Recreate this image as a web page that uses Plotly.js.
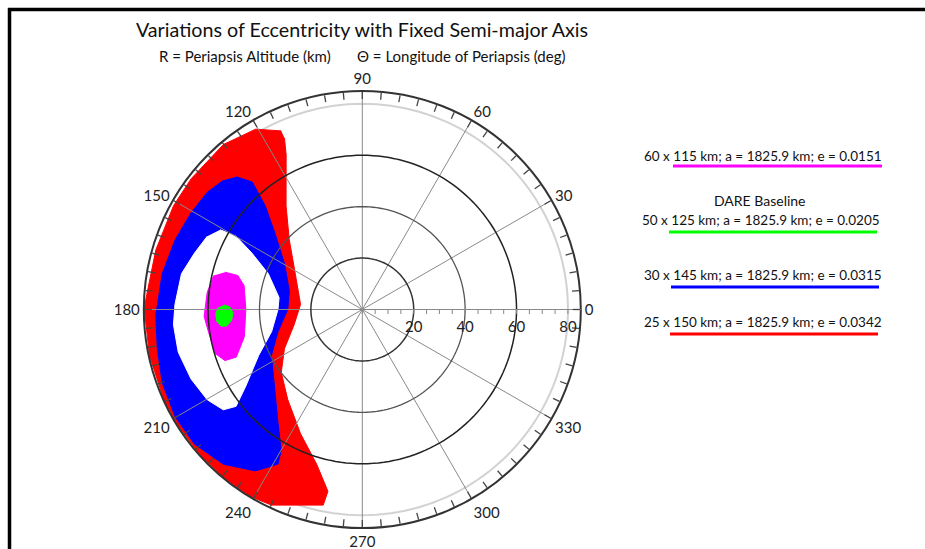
<!DOCTYPE html>
<html>
<head>
<meta charset="utf-8">
<script src="https://cdn.plot.ly/plotly-3.0.1.min.js"></script>
<style>html,body{margin:0;padding:0;background:#fff;}#chart{width:925px;height:549px;}</style>
</head>
<body>
<div id="chart"></div>
<script>
// ---- data (periapsis altitude r in km, longitude of periapsis theta in deg) ----
const redTheta = [114.4,120.6,130.1,142.6,151.2,163.9,176.8,180,192.2,204.2,212.1,221.9,231.0,239.0,245.1,258.7,259.3,253.6,243.5,230.4,217.8,206.7,192.7,175.3,148.0,136.3,126.3,116.2,114.4];
const redR     = [76.3,81.5,83.9,83.8,83.8,83.6,84.2,84.8,84.7,84.8,84.8,84.8,84.8,84.8,83.9,77.6,72.0,62.8,53.9,45.5,39.9,33.9,27.2,24.1,31.3,39.3,50.1,67.1,73.3];

const blueTheta = [133.5,130.8,133.1,138.8,149.5,165.7,180,194.7,206.8,222.4,233.5,240.1,241.4,236.5,228.1,218.7,209.8,200.1,190.8,181.4,178.6,169.9,159.6,150.5,142.9,137.1];
const blueR     = [71.2,65.5,55.3,45.2,35.1,29.3,29.0,33.9,39.6,46.1,55.1,63.3,68.5,75.3,80.9,83.7,83.9,82.9,81.2,80.4,79.7,79.1,77.7,76.5,75.6,73.8];

const holeTheta = [150.7,149.9,153.0,159.2,171.9,180,193.7,203.9,213.3,217.5,215.8,210.2,202.1,193.0,184.6,178.4,168.8,161.5,154.7];
const holeR     = [63.4,56.7,48.1,39.1,32.7,32.8,36.3,44.1,54.2,61.9,66.7,69.8,71.9,73.5,73.7,72.9,71.7,68.9,66.7];

const magentaTheta = [164.8,164.7,168.6,180,193.0,200.7,200.4,196.7,188.8,182.5,173.7,167.1];
const magentaR     = [55.4,50.2,46.9,45.3,47.1,52.4,57.0,59.7,60.4,61.6,60.7,59.3];

const greenTheta = [178.1,178.9,181.4,184.7,186.9,186.8,184.6,181.6,179.2];
const greenR     = [53.8,51.6,50.3,51.0,53.1,55.3,56.8,57.0,56.1];

const radialTickVals = [0,5,10,15,20,25,30,35,40,45,50,55,60,65,70,75,80];
const radialLabelVals = [20,40,60,80];
const gridCircles = [20,40,60];
const outerGrid = 80;
const spokeAngles = [0,30,60,90,120,150,180,210,240,270,300,330];
const angularTickStep = 5;
const angularLabelStep = 30;
const rMax = 85;

const seriesLabels = [
  "60 x 115 km; a = 1825.9 km; e = 0.0151",
  "50 x 125 km; a = 1825.9 km; e = 0.0205",
  "30 x 145 km; a = 1825.9 km; e = 0.0315",
  "25 x 150 km; a = 1825.9 km; e = 0.0342"
];
const baselineLabel = "DARE Baseline";

// ---- build ----
const FONT = "Lato, 'Open Sans', sans-serif";
function area(theta, r, color) {
  return {type:'scatterpolar', mode:'lines', theta: theta, r: r, fill:'toself',
          fillcolor: color, line:{color: color, width: 1}, hoverinfo:'skip', showlegend:false};
}
function circle(rad, color, width) {
  const th = [], rr = [];
  for (let a = 0; a <= 360; a += 2) { th.push(a); rr.push(rad); }
  return {type:'scatterpolar', mode:'lines', theta: th, r: rr,
          line:{color: color, width: width}, hoverinfo:'skip', showlegend:false};
}
const spokeTh = [], spokeR = [];
spokeAngles.forEach(a => { spokeTh.push(a, a, null); spokeR.push(0, rMax, null); });

const traces = [
  circle(outerGrid, '#d2d2d2', 2),
  area(redTheta, redR, '#ff0000'),
  area(blueTheta, blueR, '#0000ff'),
  area(holeTheta, holeR, '#ffffff'),
  area(magentaTheta, magentaR, '#ff00ff'),
  area(greenTheta, greenR, '#00ff00'),
  {type:'scatterpolar', mode:'lines', theta: spokeTh, r: spokeR, connectgaps:false,
   line:{color:'#8a8a8a', width:1}, hoverinfo:'skip', showlegend:false},
  circle(gridCircles[0], '#333333', 1.5),
  circle(gridCircles[1], '#555555', 1.3),
  circle(gridCircles[2], '#222222', 1.5)
];

const angVals = [], angText = [];
for (let a = 0; a < 360; a += angularTickStep) {
  angVals.push(a);
  angText.push(a % angularLabelStep === 0 ? String(a) : '');
}
const radText = radialTickVals.map(v => radialLabelVals.includes(v) ? String(v) : '');

const W = 925, H = 549;
const cx = 362.3, cy = 309.5, R = 218.5;

const legendY = [156, 220, 275, 322];
const lineY = [166, 232, 287, 334];
const lineColors = ['#ff00ff', '#00ff00', '#0000ff', '#ff0000'];
const lineX = [[673,882],[669,877],[671,879],[670,878]];
const legendCx = [763, 761, 763, 763];

const annotations = [
  {text:'R = Periapsis Altitude (km)', x:245/W, y:1-56/H, xref:'paper', yref:'paper', showarrow:false,
   font:{family:FONT, size:15, color:'#111'}, xanchor:'center', yanchor:'middle'},
  {text:'\u0398 = Longitude of Periapsis (deg)', x:461/W, y:1-56/H, xref:'paper', yref:'paper', showarrow:false,
   font:{family:FONT, size:15, color:'#111'}, xanchor:'center', yanchor:'middle'},
  {text: baselineLabel, x:760/W, y:1-200/H, xref:'paper', yref:'paper', showarrow:false,
   font:{family:FONT, size:14, color:'#111'}, xanchor:'center', yanchor:'middle'}
];
seriesLabels.forEach((t, i) => {
  annotations.push({text:t, x:legendCx[i]/W, y:1-legendY[i]/H, xref:'paper', yref:'paper',
    showarrow:false, font:{family:FONT, size:13.5, color:'#111'}, xanchor:'center', yanchor:'middle'});
});
const shapes = lineColors.map((c, i) => ({type:'line', xref:'paper', yref:'paper',
  x0:lineX[i][0]/W, x1:lineX[i][1]/W, y0:1-lineY[i]/H, y1:1-lineY[i]/H, line:{color:c, width:3}}));
shapes.push({type:'line', xref:'paper', yref:'paper', x0:8/W, x1:1, y0:1-9.5/H, y1:1-9.5/H, line:{color:'#000', width:3.5}});
shapes.push({type:'line', xref:'paper', yref:'paper', x0:9.5/W, x1:9.5/W, y0:0, y1:1-8/H, line:{color:'#000', width:3.5}});

const layout = {
  width: W, height: H,
  margin:{l:0, r:0, t:0, b:0},
  paper_bgcolor:'#fff',
  showlegend:false,
  title:{text:'Variations of Eccentricity with Fixed Semi-major Axis', x:362/W, xanchor:'center',
         y:1-30/H, yanchor:'middle', font:{family:FONT, size:19.7, color:'#111'}},
  polar:{
    domain:{x:[(cx-R)/W, (cx+R)/W], y:[(H-cy-R)/H, (H-cy+R)/H]},
    bgcolor:'#fff',
    radialaxis:{range:[0, rMax], angle:0, tickangle:0, side:'clockwise', tickmode:'array', tickvals:radialTickVals,
      ticktext:radText, showgrid:false, showline:true, linecolor:'#888', linewidth:1,
      ticks:'outside', ticklen:4, tickcolor:'#888', tickfont:{family:FONT, size:15, color:'#222'}, layer:'above traces'},
    angularaxis:{rotation:0, direction:'counterclockwise', tickmode:'array', tickvals:angVals, ticktext:angText,
      showgrid:false, showline:true, linecolor:'#333', linewidth:2, ticks:'inside', ticklen:7, tickcolor:'#444',
      tickwidth:1.3, tickfont:{family:FONT, size:15, color:'#222'}, layer:'above traces'}
  },
  annotations: annotations,
  shapes: shapes
};
Plotly.newPlot('chart', traces, layout, {displayModeBar:false, staticPlot:true});
</script>
</body>
</html>
